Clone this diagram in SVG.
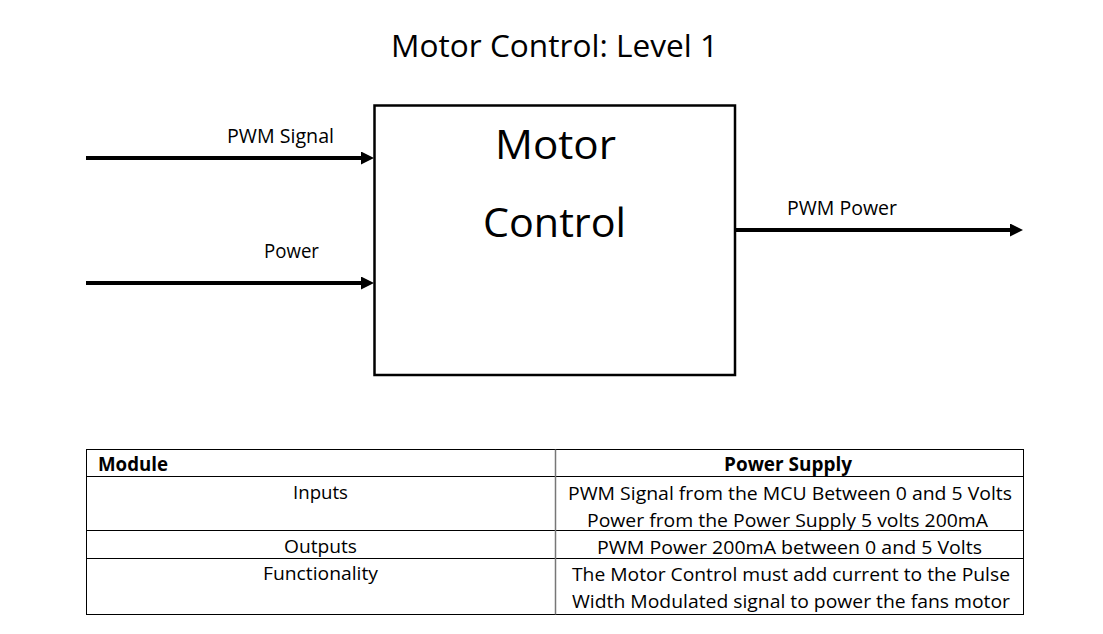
<svg xmlns="http://www.w3.org/2000/svg" width="1103" height="634" viewBox="0 0 1103 634">
<style>
text{font-family:"Open Sans","Noto Sans","Liberation Sans",sans-serif;fill:#000}
.lbl{font-size:19.5px}
.tb{font-size:19px}
.b{font-weight:bold}
.conn{stroke:#000;stroke-width:4;fill:none}
.grid{stroke:#000;stroke-width:1;fill:none}
</style>
<defs>
<marker id="ah" markerUnits="userSpaceOnUse" markerWidth="14" markerHeight="14" refX="1" refY="6.5" orient="auto">
<path d="M0,0 L13,6.5 L0,13 z" fill="#000"/>
</marker>
</defs>
<rect width="1103" height="634" fill="#fff"/>
<text id="title" x="391" y="57" font-size="31" textLength="327" lengthAdjust="spacingAndGlyphs">Motor Control: Level 1</text>
<g id="motor-control">
<rect x="374.5" y="105.5" width="360.5" height="269.5" fill="#fff" stroke="#000" stroke-width="2.5"/>
<text x="495" y="159" font-size="40.5" textLength="121" lengthAdjust="spacingAndGlyphs">Motor</text>
<text x="483" y="237" font-size="40.5" textLength="143" lengthAdjust="spacingAndGlyphs">Control</text>
</g>
<g id="connectors">
<line class="conn" x1="86" y1="158" x2="362" y2="158" marker-end="url(#ah)"/>
<line class="conn" x1="86" y1="283" x2="362" y2="283" marker-end="url(#ah)"/>
<line class="conn" x1="735" y1="230" x2="1011" y2="230" marker-end="url(#ah)"/>
<text class="lbl" x="227" y="142.5" textLength="107" lengthAdjust="spacingAndGlyphs">PWM Signal</text>
<text class="lbl" x="264" y="258" textLength="55" lengthAdjust="spacingAndGlyphs">Power</text>
<text class="lbl" x="787" y="215" textLength="110" lengthAdjust="spacingAndGlyphs">PWM Power</text>
</g>
<g id="table">
<rect class="grid" x="86.5" y="449.5" width="937" height="165"/>
<line class="grid" x1="86.5" y1="476.5" x2="1023.5" y2="476.5"/>
<line class="grid" x1="86.5" y1="530.5" x2="1023.5" y2="530.5"/>
<line class="grid" x1="86.5" y1="558.5" x2="1023.5" y2="558.5"/>
<line x1="555.5" y1="449.5" x2="555.5" y2="614.5" stroke="#777" stroke-width="1.5"/>
<text class="tb b" x="98" y="470.5" textLength="70" lengthAdjust="spacingAndGlyphs">Module</text>
<text class="tb b" x="724" y="470.5" textLength="128" lengthAdjust="spacingAndGlyphs">Power Supply</text>
<text class="tb" x="293" y="499" textLength="55" lengthAdjust="spacingAndGlyphs">Inputs</text>
<text class="tb" x="284" y="553" textLength="73" lengthAdjust="spacingAndGlyphs">Outputs</text>
<text class="tb" x="263" y="580" textLength="115" lengthAdjust="spacingAndGlyphs">Functionality</text>
<text class="tb" x="568" y="499.5" textLength="444" lengthAdjust="spacingAndGlyphs">PWM Signal from the MCU Between 0 and 5 Volts</text>
<text class="tb" x="587" y="526.5" textLength="401" lengthAdjust="spacingAndGlyphs">Power from the Power Supply 5 volts 200mA</text>
<text class="tb" x="597" y="553.5" textLength="385" lengthAdjust="spacingAndGlyphs">PWM Power 200mA between 0 and 5 Volts</text>
<text class="tb" x="572" y="581" textLength="438" lengthAdjust="spacingAndGlyphs">The Motor Control must add current to the Pulse</text>
<text class="tb" x="572" y="608" textLength="438" lengthAdjust="spacingAndGlyphs">Width Modulated signal to power the fans motor</text>
</g>
</svg>
